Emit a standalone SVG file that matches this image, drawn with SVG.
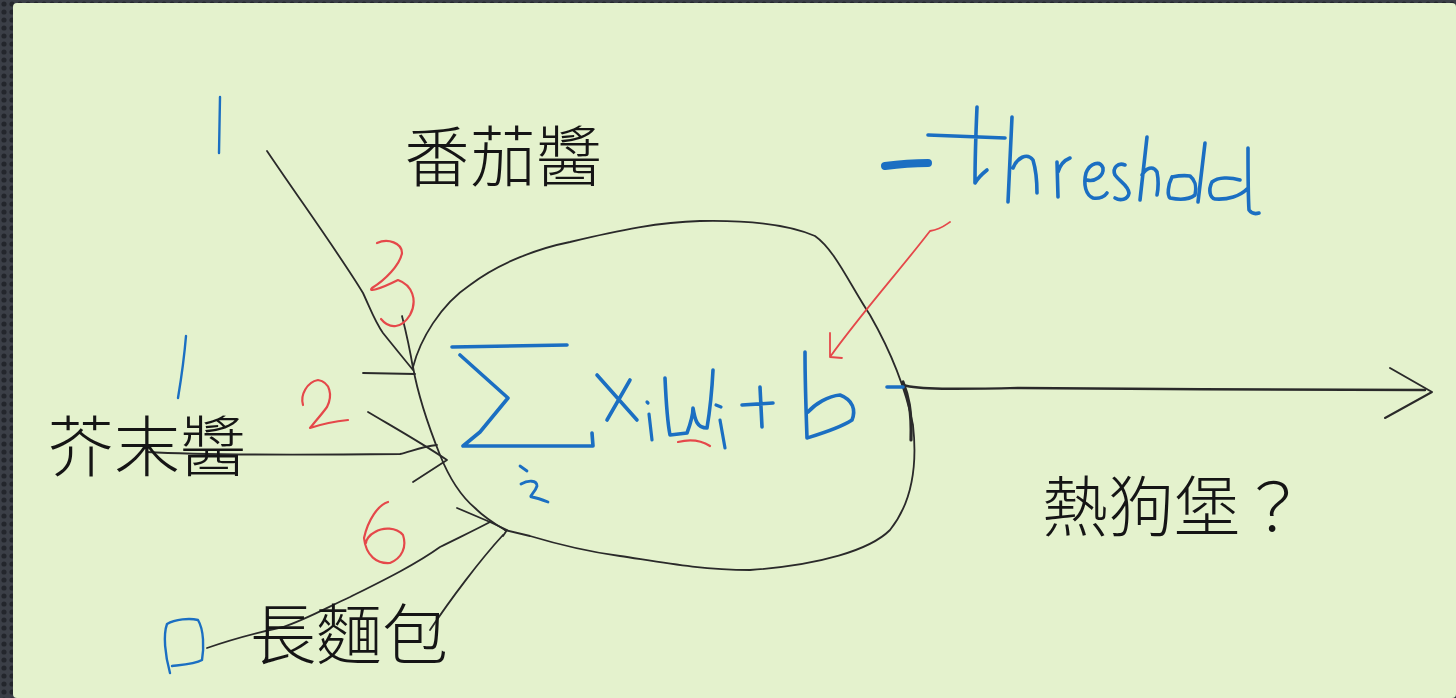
<svg xmlns="http://www.w3.org/2000/svg" width="1456" height="698" viewBox="0 0 1456 698">
<defs>
<pattern id="dots" width="8" height="8" patternUnits="userSpaceOnUse">
<rect width="8" height="8" fill="#3b3f47"/>
<circle cx="4" cy="4" r="2.6" fill="#23262c"/>
</pattern>
</defs>
<style>
.ink{fill:none;stroke:#2a2a2a;stroke-width:1.8;stroke-linecap:round;stroke-linejoin:round}
.blue{fill:none;stroke:#1b6fc2;stroke-width:3.6;stroke-linecap:round;stroke-linejoin:round}
.red{fill:none;stroke:#e5484a;stroke-width:1.8;stroke-linecap:round;stroke-linejoin:round}
.lbl{font-family:"Noto Sans CJK TC","Noto Sans CJK SC",sans-serif;font-size:66px;font-weight:300;fill:#151515}
</style>
<rect x="0" y="0" width="1456" height="698" fill="url(#dots)"/>
<rect x="13" y="3" width="1443" height="695" rx="4" fill="#e4f2cd"/>

<g id="connectors">
<!-- blob (neuron) -->
<path class="ink" d="M413,367 C420,340 440,305 470,285 C500,262 540,248 570,242 C620,230 660,222 700,221 C750,220 790,225 815,236 C835,250 850,285 870,315 C890,350 905,385 913,425 C918,470 910,505 890,530 C870,550 820,565 750,570 C700,570 660,562 620,556 C590,552 560,545 530,536 L505,530"/>
<path class="ink" d="M413,367 C418,395 428,425 440,455 C450,480 462,497 475,508 C485,518 495,524 505,530"/>
<path class="ink" style="stroke-width:3.2" d="M903,382 C908,395 912,410 911,440"/>
<!-- input: tomato -->
<path class="ink" d="M267,151 C300,200 340,255 363,293 C370,308 375,322 383,333 C395,348 405,360 413,370"/>
<path class="ink" d="M402,316 C406,332 410,350 413,368"/>
<path class="ink" d="M363,373 L415,374"/>
<!-- input: mustard -->
<path class="ink" d="M147,452 C200,455 300,455 400,454 C410,452 420,447 437,445"/>
<path class="ink" d="M368,412 C395,428 420,442 447,460 L413,482"/>
<!-- input: bread -->
<path class="ink" d="M457,508 L490,522 L507,530 L503,536"/>
<path class="ink" d="M207,648 C230,640 260,632 283,627 C305,620 330,606 350,597 C380,582 415,565 440,547 C460,537 475,530 490,522"/>
<path class="ink" d="M430,630 C450,600 480,560 503,535"/>
<!-- output -->
<path class="ink" style="stroke-width:2.4" d="M903,385 C920,390 960,389 1020,388 C1150,389 1300,390 1425,390"/>
<path class="ink" style="stroke-width:2" d="M1390,368 L1432,392 L1385,418"/>
<!-- threshold arrow -->
<path class="red" d="M950,222 C945,225 942,229 930,231 C900,270 860,315 830,357 L842,358 M830,333 L830,357"/>
</g>

<g id="weights">
<path class="blue" style="stroke-width:2.4" d="M220,97 L219,153"/>
<path class="blue" style="stroke-width:2.4" d="M186,336 C184,360 181,380 178,398"/>
<path class="blue" style="stroke-width:2.4" d="M170,673 C165,655 163,635 167,624 C175,619 190,618 198,620 C204,630 204,648 202,660 C195,664 180,665 172,666"/>
<path class="red" style="stroke-width:2.2" d="M377,243 C388,238 402,243 402,253 C400,265 385,280 372,288 C368,292 378,290 398,280 C412,285 418,300 410,315 C402,328 390,330 381,319"/>
<path class="red" style="stroke-width:2.2" d="M303,405 C300,395 307,382 318,380 C330,382 333,395 327,407 C322,414 314,423 310,428 C325,423 338,421 348,420"/>
<path class="red" style="stroke-width:2.2" d="M388,502 C378,505 368,520 364,538 C366,556 377,564 390,563 C402,558 407,547 403,535 C396,527 383,527 375,532 C369,535 366,540 366,543"/>
</g>

<g id="formula">
<path class="blue" d="M452,347 L567,345 M460,355 L508,398 L480,432 L463,446 L593,446 L592,433"/>
<path class="blue" style="stroke-width:2.8" d="M520,466 L527,471 M521,484 C528,480 537,480 537,486 C535,493 528,497 532,497 C538,498 543,500 548,502"/>
<path class="blue" d="M597,375 L637,420 M630,380 L607,420"/>
<path class="blue" style="stroke-width:3.2" d="M647,402 L648,403 M649,414 L652,440"/>
<path class="blue" d="M665,378 C666,400 667,420 670,435 L687,433 C690,425 693,415 693,408 C695,420 697,428 707,428 C710,410 712,390 713,370"/>
<path class="blue" style="stroke-width:3.2" d="M716,405 L721,407 M720,420 L725,448"/>
<path class="red" style="stroke-width:2.2" d="M678,442 C690,439 702,441 710,446"/>
<path class="blue" d="M742,405 L773,403 M760,387 L762,427"/>
<path class="blue" d="M805,352 C805,380 806,410 807,438 C820,434 840,428 852,420 C856,410 853,400 840,395 C828,396 815,404 808,412"/>
<path class="blue" d="M887,387 L903,387"/>
</g>

<g id="threshold">
<path class="blue" style="stroke-width:8" d="M885,166 C900,164 915,163 928,163"/>
<path class="blue" d="M977,107 C976,130 975,160 975,183 C978,178 982,174 987,170 M928,135 L1005,138"/>
<path class="blue" d="M1012,117 L1008,202 M1013,168 C1017,158 1027,152 1033,160 C1036,170 1037,183 1037,193"/>
<path class="blue" d="M1057,162 L1058,197 M1058,172 C1060,165 1065,160 1070,158"/>
<path class="blue" d="M1087,180 C1095,182 1104,176 1103,168 C1100,160 1090,163 1086,173 C1083,185 1086,195 1093,198 C1100,199 1105,196 1107,193"/>
<path class="blue" d="M1125,165 C1118,162 1112,168 1115,175 C1120,182 1128,185 1129,193 C1128,200 1120,201 1115,198"/>
<path class="blue" d="M1147,137 L1140,200 M1142,175 C1146,168 1153,165 1157,172 C1159,182 1158,190 1157,195"/>
<path class="blue" d="M1172,177 C1168,185 1167,195 1170,198 C1180,200 1190,199 1195,195 C1197,185 1195,180 1190,176 C1183,175 1177,176 1172,177"/>
<path class="blue" d="M1205,143 L1198,202"/>
<path class="blue" d="M1240,180 C1230,177 1218,177 1212,182 C1208,190 1210,198 1215,199 C1228,200 1240,196 1247,189 M1248,148 C1248,170 1248,195 1249,210 C1252,214 1256,214 1259,213"/>
</g>

<g id="node-tomato"><text class="lbl" x="404" y="181">番茄醬</text></g>
<g id="node-mustard"><text class="lbl" x="48" y="471">芥末醬</text></g>
<g id="node-bread"><text class="lbl" x="250" y="659">長麵包</text></g>
<g id="node-hotdog"><text class="lbl" x="1042" y="531">熱狗堡？</text></g>
</svg>
